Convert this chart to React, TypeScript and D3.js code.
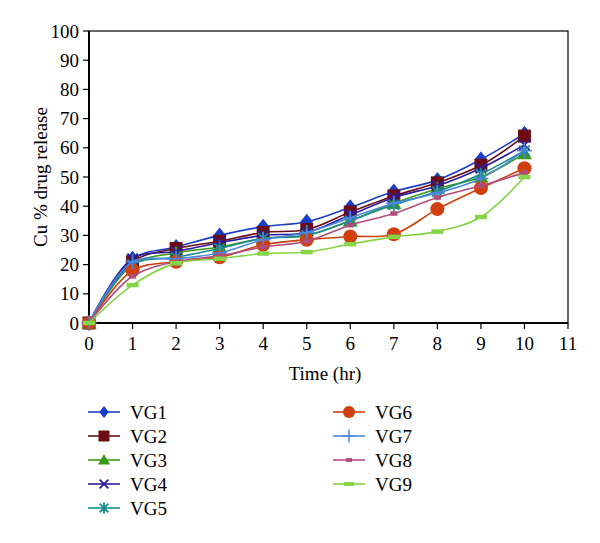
import React from "react";
import * as d3 from "d3";

const times = [0, 1, 2, 3, 4, 5, 6, 7, 8, 9, 10];
const vg1 = [0, 22, 26, 30, 33, 34.7, 39.6, 45, 49, 56, 64.8];
const vg2 = [0, 21, 25.5, 28, 31, 32, 38, 43.5, 48, 54, 64];
const vg3 = [0, 20, 24, 26, 29, 30, 35, 41, 46, 50, 58];
const vg4 = [0, 22, 24.5, 27.5, 30, 31, 37, 43, 47, 53, 61];
const vg5 = [0, 20, 22.5, 25.5, 29, 30, 35, 40.5, 45, 51, 59];
const vg6 = [0, 18, 21, 22.5, 26.8, 28.5, 29.6, 30.4, 39, 46.2, 53];
const vg7 = [0, 21, 22, 24, 28.5, 31, 36, 41, 44.5, 49.5, 59];
const vg8 = [0, 16, 21, 23, 26, 28, 33.5, 37.5, 43, 47, 51.5];
const vg9 = [0, 13, 20.5, 22, 23.8, 24.3, 27, 29.5, 31.3, 36.3, 50];
const seriesNames = ["VG1", "VG2", "VG3", "VG4", "VG5", "VG6", "VG7", "VG8", "VG9"];
const seriesValues = [vg1, vg2, vg3, vg4, vg5, vg6, vg7, vg8, vg9];
const colors = ["#1a3fc4", "#6b0c16", "#3b9a14", "#2c1c9c", "#1c8c8c", "#d0400e", "#4a88e0", "#b04c7c", "#86d448"];
const markers = ["diamond", "square", "triangle", "x", "asterisk", "circle", "plus", "smallrect", "dash"];
const xTicks = [0, 1, 2, 3, 4, 5, 6, 7, 8, 9, 10, 11];
const yTicks = [0, 10, 20, 30, 40, 50, 60, 70, 80, 90, 100];

const FONT = "'Liberation Serif', 'DejaVu Serif', serif";

function Marker({ type, x, y, color, s }: { type: string; x: number; y: number; color: string; s: number }) {
  switch (type) {
    case "diamond":
      return <path d={`M${x},${y - s}L${x + s * 0.8},${y}L${x},${y + s}L${x - s * 0.8},${y}Z`} fill={color} />;
    case "square":
      return <rect x={x - s} y={y - s} width={s * 2} height={s * 2} fill={color} />;
    case "triangle":
      return <path d={`M${x},${y - s}L${x + s},${y + s * 0.75}L${x - s},${y + s * 0.75}Z`} fill={color} />;
    case "x":
      return (
        <path d={`M${x - s * 0.8},${y - s * 0.8}L${x + s * 0.8},${y + s * 0.8}M${x - s * 0.8},${y + s * 0.8}L${x + s * 0.8},${y - s * 0.8}`} stroke={color} strokeWidth={1.8} />
      );
    case "asterisk":
      return (
        <path
          d={`M${x - s * 0.8},${y - s * 0.8}L${x + s * 0.8},${y + s * 0.8}M${x - s * 0.8},${y + s * 0.8}L${x + s * 0.8},${y - s * 0.8}M${x},${y - s}L${x},${y + s}`}
          stroke={color}
          strokeWidth={1.8}
        />
      );
    case "circle":
      return <circle cx={x} cy={y} r={s} fill={color} />;
    case "plus":
      return <path d={`M${x - s},${y}L${x + s},${y}M${x},${y - s}L${x},${y + s}`} stroke={color} strokeWidth={1.5} />;
    case "smallrect":
      return <rect x={x - s * 0.55} y={y - s * 0.35} width={s * 1.1} height={s * 0.7} fill={color} />;
    case "dash":
      return <rect x={x - s * 0.8} y={y - s * 0.3} width={s * 1.6} height={s * 0.6} fill={color} />;
  }
  return null;
}

export default function App() {
  const W = 600;
  const H = 543;
  const left = 89;
  const right = 568;
  const top = 31;
  const bottom = 323;
  const x = d3.scaleLinear().domain([0, 11]).range([left, right]);
  const y = d3.scaleLinear().domain([0, 100]).range([bottom, top]);
  const line = d3
    .line<number>()
    .x((_, i) => x(times[i]))
    .y((d) => y(d))
    .curve(d3.curveCatmullRom.alpha(0.5));

  const markerSize = [8, 6.5, 7.5, 6.5, 6.5, 7, 7.5, 6.5, 7.5];
  const legendSize = [6, 5.5, 6, 5.5, 5.5, 6, 6.5, 5.5, 6.5];
  const legendRows = [412, 436, 460, 484, 508];
  const FS = 19;

  return (
    <svg width={W} height={H} style={{ position: "absolute", left: 0, top: 0, background: "#fff" }} fontFamily={FONT}>
      <rect x={0} y={0} width={W} height={H} fill="#fff" />
      <rect x={left} y={top} width={right - left} height={bottom - top} fill="none" stroke="#000" strokeWidth={1.2} />
      <line x1={left} x2={left} y1={top} y2={bottom} stroke="#000" strokeWidth={2} />
      <line x1={left} x2={right} y1={bottom} y2={bottom} stroke="#000" strokeWidth={2} />
      {yTicks.map((t) => (
        <g key={"y" + t}>
          <line x1={left - 6} x2={left} y1={y(t)} y2={y(t)} stroke="#000" strokeWidth={1.2} />
          <text x={left - 10} y={y(t)} dy="0.35em" textAnchor="end" fontSize={FS}>
            {t}
          </text>
        </g>
      ))}
      {xTicks.map((t) => (
        <g key={"x" + t}>
          <line x1={x(t)} x2={x(t)} y1={bottom} y2={bottom + 6} stroke="#000" strokeWidth={1.2} />
          <text x={x(t)} y={bottom + 27} textAnchor="middle" fontSize={FS}>
            {t}
          </text>
        </g>
      ))}
      <text x={325} y={380} textAnchor="middle" fontSize={FS}>
        Time (hr)
      </text>
      <text transform={`translate(47,${(top + bottom) / 2}) rotate(-90)`} textAnchor="middle" fontSize={FS}>
        Cu % drug release
      </text>
      {seriesValues.map((vals, si) => (
        <g key={seriesNames[si]}>
          <path d={line(vals) || ""} fill="none" stroke={colors[si]} strokeWidth={1.6} />
          {vals.map((v, i) => (
            <Marker key={i} type={markers[si]} x={x(times[i])} y={y(v)} color={colors[si]} s={markerSize[si]} />
          ))}
        </g>
      ))}
      {seriesNames.map((name, si) => {
        const col = si < 5 ? 0 : 1;
        const row = si < 5 ? si : si - 5;
        const lx = col === 0 ? 88 : 333;
        const ly = legendRows[row];
        return (
          <g key={"lg" + name}>
            <line x1={lx} x2={lx + 32} y1={ly} y2={ly} stroke={colors[si]} strokeWidth={1.6} />
            <Marker type={markers[si]} x={lx + 16} y={ly} color={colors[si]} s={legendSize[si]} />
            <text x={lx + 42} y={ly} dy="0.35em" fontSize={FS}>
              {name}
            </text>
          </g>
        );
      })}
    </svg>
  );
}
